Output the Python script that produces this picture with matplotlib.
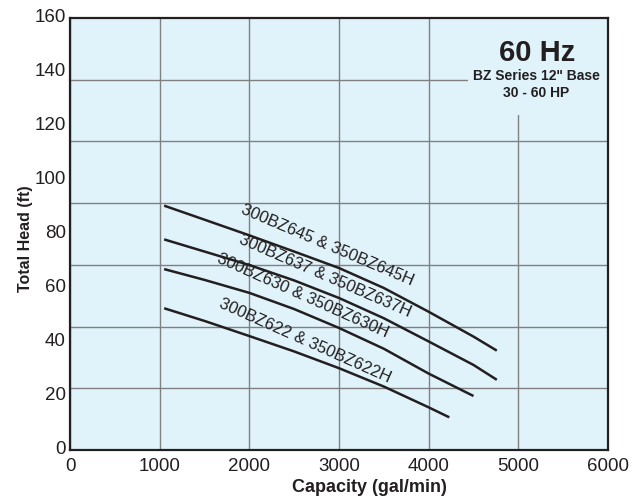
import numpy as np
import matplotlib
matplotlib.use("Agg")
import matplotlib.pyplot as plt
from matplotlib.transforms import ScaledTranslation
from matplotlib.patches import Rectangle

plt.rcParams['font.family'] = ['Liberation Sans', 'DejaVu Sans']

# ---- data ----
x_ticks = [0, 1000, 2000, 3000, 4000, 5000, 6000]
y_ticks = [0, 20, 40, 60, 80, 100, 120, 140, 160]

cap_645 = [1050, 1500, 2000, 2500, 3000, 3500, 4000, 4500, 4760]
head_645 = [90.5, 85.3, 79.5, 73.5, 67.4, 60.0, 51.2, 42.0, 36.8]

cap_637 = [1050, 1500, 2000, 2500, 3000, 3500, 4000, 4500, 4760]
head_637 = [78.0, 73.5, 68.5, 62.8, 56.3, 48.8, 40.2, 31.5, 26.0]

cap_630 = [1050, 1500, 2000, 2500, 3000, 3500, 4000, 4500]
head_630 = [67.0, 63.0, 58.2, 52.2, 45.2, 37.5, 28.3, 20.0]

cap_622 = [1050, 1500, 2000, 2500, 3000, 3500, 4000, 4230]
head_622 = [52.5, 47.8, 42.2, 36.5, 30.3, 23.5, 15.8, 12.1]

curve_names = ["300BZ645 & 350BZ645H", "300BZ637 & 350BZ637H",
               "300BZ630 & 350BZ630H", "300BZ622 & 350BZ622H"]
label_pos = [(2866, 75.8), (2844, 64.4), (2590, 57.3), (2620, 40.6)]
label_rot = [-23.0, -23.5, -24.0, -24.0]

# ---- style ----
bg = "#E0F3FA"
dark = "#231F20"
gridc = "#808080"

fig = plt.figure(figsize=(6.38, 5.0), dpi=100)
ax = fig.add_axes([70/638, 50/500, 538/638, 432/500])
ax.set_facecolor(bg)
ax.set_xlim(0, 6000)
ax.set_ylim(0, 160)

ax.set_xticks(x_ticks)
ax.set_yticks(y_ticks)
ax.set_yticks([160*k/7 for k in range(1, 7)], minor=True)
ax.tick_params(which='both', length=0)
ax.tick_params(axis='x', pad=6, labelsize=13.5, labelcolor=dark)
ax.tick_params(axis='y', pad=3, labelsize=13.5, labelcolor=dark)
ax.grid(which='major', axis='x', color=gridc, lw=1.0, zorder=1)
ax.grid(which='minor', axis='y', color=gridc, lw=1.0, zorder=1)
ax.set_axisbelow(True)
for lab in ax.get_yticklabels():
    lab.set_transform(lab.get_transform() + ScaledTranslation(0, 3/100, fig.dpi_scale_trans))

for s in ax.spines.values():
    s.set_color(dark)
    s.set_linewidth(1.6)
    s.set_zorder(5)

# box behind the title text
ax.add_patch(Rectangle((0.74, 0.775), 0.26, 0.225, transform=ax.transAxes,
                       facecolor=bg, edgecolor='none', zorder=2))

for cx, cy in [(cap_645, head_645), (cap_637, head_637), (cap_630, head_630), (cap_622, head_622)]:
    ax.plot(cx, cy, color=dark, lw=1.8, solid_capstyle='butt', solid_joinstyle='round', zorder=3)

for name, (lx, ly), rot in zip(curve_names, label_pos, label_rot):
    ax.text(lx, ly, name, rotation=rot, rotation_mode='anchor', ha='center', va='center',
            fontsize=12, color=dark, zorder=4)

ax.text(537, 500-53, "60 Hz", transform=None, ha='center', va='center',
        fontsize=21, fontweight='bold', color=dark, zorder=4)
ax.text(536, 500-76, "BZ Series 12\" Base", transform=None, ha='center', va='center',
        fontsize=10, fontweight='bold', color=dark, zorder=4)
ax.text(536, 500-93, "30 - 60 HP", transform=None, ha='center', va='center',
        fontsize=10, fontweight='bold', color=dark, zorder=4)

ax.set_xlabel("Capacity (gal/min)", fontsize=13, fontweight='bold', color=dark)
ax.xaxis.set_label_coords((369-70)/538, -(479-450)/432)
ax.set_ylabel("Total Head (ft)", fontsize=11.5, fontweight='bold', color=dark)
ax.yaxis.set_label_coords(-(70-33)/538, 0.49)

fig.savefig("out.png", dpi=100)
